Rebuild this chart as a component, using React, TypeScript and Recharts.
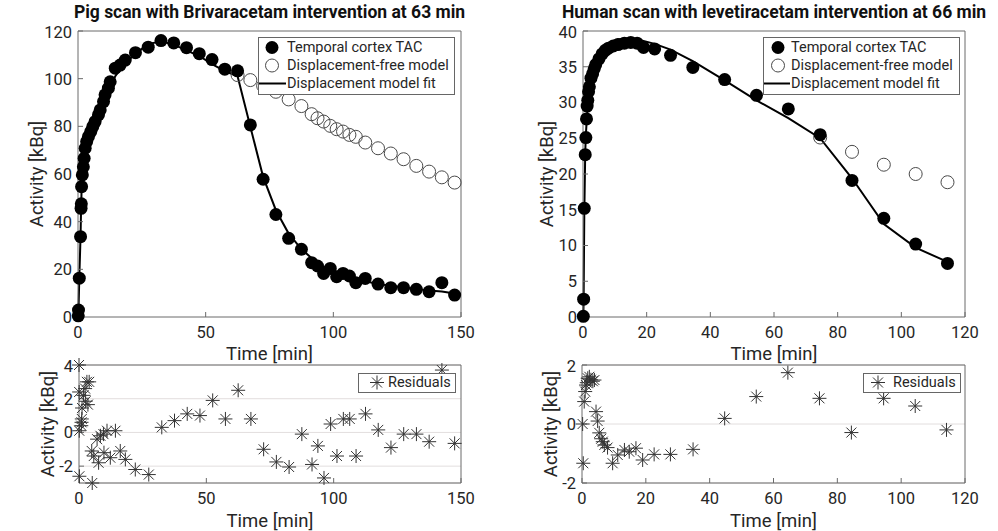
import React from 'react';
import { ComposedChart, Scatter, Line, XAxis, YAxis, CartesianGrid, Label } from 'recharts';

// pig scan, brivaracetam given at 63 min
const pigTime = [0.1, 0.2, 0.5, 1.0, 1.2, 1.3, 1.4, 1.7, 2.1, 2.4, 2.8, 3.4, 4.1, 5.0, 5.8, 6.7, 8.0, 8.7, 10.0, 10.6, 11.9, 12.6, 14.6, 16.5, 18.5, 22.5, 27.5, 32.5, 37.5, 42.5, 47.5, 52.5, 57.5, 62.5, 67.5, 72.5, 77.5, 82.5, 87.5, 91.5, 93.8, 96.2, 98.8, 101.3, 103.8, 106.3, 108.8, 112.5, 117.5, 122.5, 127.5, 132.5, 137.5, 142.5, 147.5];
const pigTac = [0.5, 2.9, 16.3, 33.7, 45.6, 47.5, 54.7, 59.6, 63, 66.6, 70.8, 73.6, 75.7, 77.8, 79.9, 82, 84.8, 86.9, 90.4, 93.2, 96, 98.7, 104.4, 105.7, 107.8, 110.9, 113.2, 116, 115, 113, 110.5, 108, 104, 103.3, 80.6, 57.8, 43, 33, 28.4, 22.8, 21.4, 18.3, 20.4, 16.9, 18.3, 17.2, 14.4, 16.2, 13.8, 12.3, 12.3, 11.6, 10.6, 14.4, 9.2];
const pigFit = [0, 3, 16, 34, 45, 48, 54, 59, 63, 67, 70.5, 73.5, 76, 78.5, 81, 83.5, 86.5, 88, 91, 92.5, 95.5, 97, 101, 104, 106.5, 110.5, 114.5, 115.7, 114.3, 111.9, 109.5, 106.1, 103.2, 101, 79.8, 58.8, 44.8, 35, 28.5, 24.7, 22.2, 21.0, 19.9, 18.3, 17.5, 16.4, 15.8, 15.1, 13.7, 13.2, 12.4, 11.7, 11.1, 10.7, 9.9];
const pigFreeTime = [62.5, 67.5, 72.5, 77.5, 82.5, 87.5, 91.5, 93.8, 96.2, 98.8, 101.3, 103.8, 106.3, 108.8, 112.5, 117.5, 122.5, 127.5, 132.5, 137.5, 142.5, 147.5];
const pigFree = [101.5, 99.4, 97, 94.5, 91.3, 88.5, 85.1, 83.4, 82, 80.2, 78.8, 77.8, 76.4, 75.6, 73.2, 70.8, 68.6, 66.2, 63.4, 61, 58.6, 56.4];
const pigResTime = [0, 0.05, 0.1, 0.15, 0.9, 1.0, 1.1, 1.2, 1.8, 2.4, 2.6, 3.1, 3.5, 4.0, 5.0, 5.2, 5.8, 7.1, 7.7, 8.4, 9.6, 9.8, 11.0, 12.3, 14.3, 16.2, 18.2, 22.1, 27.4, 32.5, 37.5, 42.5, 47.5, 52.5, 57.5, 62.5, 67.5, 72.5, 77.5, 82.5, 87.5, 91.5, 93.8, 96.2, 98.8, 101.3, 103.8, 106.3, 108.8, 112.5, 117.5, 122.5, 127.5, 132.5, 137.5, 142.5, 147.5];
const pigRes = [4.0, 2.4, 0.1, -2.6, 0.4, 0.6, 0.8, 1.45, 2.2, 2.6, 1.85, 3.0, 1.65, 3.0, -1.1, -3.0, -1.4, -0.4, -1.8, -0.2, -0.1, -1.2, 0.1, -1.5, 0.1, -1.1, -1.6, -2.2, -2.5, 0.3, 0.7, 1.1, 1.0, 1.9, 0.8, 2.5, 0.8, -1.0, -1.75, -2.05, -0.1, -1.9, -0.8, -2.7, 0.5, -1.4, 0.8, 0.8, -1.4, 1.1, 0.15, -0.9, -0.1, -0.1, -0.55, 3.7, -0.65];

// human scan, levetiracetam given at 66 min
const humanTime = [0.1, 0.2, 0.4, 0.7, 0.9, 1.1, 1.3, 1.5, 1.75, 2.0, 2.5, 3.0, 3.5, 4.0, 5.0, 6.0, 7.0, 8.0, 9.5, 11.0, 13.0, 15.0, 17.0, 19.0, 22.5, 27.5, 34.5, 44.5, 54.5, 64.5, 74.5, 84.5, 94.5, 104.5, 114.5];
const humanTac = [0.1, 2.5, 15.2, 22.7, 25.1, 27.7, 29.5, 30.3, 31.5, 32.2, 33.4, 34.0, 34.7, 35.3, 36.1, 36.8, 37.3, 37.6, 37.9, 38.1, 38.3, 38.4, 38.3, 37.7, 37.5, 36.6, 34.9, 33.2, 31.0, 29.1, 25.5, 19.1, 13.8, 10.2, 7.5];
const humanFit = [0, 2.6, 14, 23, 25.5, 27, 28.3, 29.4, 30.5, 31.4, 32.8, 33.8, 34.6, 35.3, 36.4, 37.2, 37.8, 38.2, 38.6, 38.8, 38.9, 38.9, 38.8, 38.6, 38.2, 37.4, 35.8, 33.1, 30.3, 27.8, 25.0, 19.4, 13.0, 9.7, 7.7];
const humanFreeTime = [74.5, 84.5, 94.5, 104.5, 114.5];
const humanFree = [25.1, 23.1, 21.3, 20.0, 18.85];
const humanResTime = [0.2, 0.4, 0.7, 1.0, 1.25, 1.5, 1.8, 2.3, 2.8, 3.4, 3.9, 4.4, 4.9, 5.4, 6.0, 6.5, 7.0, 8.0, 9.6, 11.2, 13.3, 14.8, 16.9, 19.0, 22.6, 27.7, 34.8, 44.7, 54.6, 64.5, 74.4, 84.4, 94.5, 104.4, 114.2];
const humanRes = [0, -1.33, 0.76, 1.1, 1.32, 1.4, 1.55, 1.6, 1.5, 1.45, 1.49, 0.42, 0.1, -0.3, -0.5, -0.6, -0.71, -0.8, -1.33, -1.05, -0.88, -0.94, -0.82, -1.22, -1.03, -1.03, -0.86, 0.19, 0.93, 1.74, 0.87, -0.29, 0.87, 0.61, -0.2];

const pigTicksX = [0, 50, 100, 150];
const humanTicksX = [0, 20, 40, 60, 80, 100, 120];
const pigTicksY = [0, 20, 40, 60, 80, 100, 120];
const humanTicksY = [0, 5, 10, 15, 20, 25, 30, 35, 40];
const pigResTicks = [-2, 0, 2, 4];
const humanResTicks = [-2, 0, 2];

const FONT = 'Roboto, sans-serif';
const AXIS = '#6a6a6a';
const TEXT = '#262626';

const pts = (t: number[], v: number[]) => t.map((x, i) => ({ t: x, v: v[i] }));

function Filled(p: any) {
  return <circle cx={p.cx} cy={p.cy} r={6.5} fill="#000" />;
}
function Open(p: any) {
  return <circle cx={p.cx} cy={p.cy} r={6.5} fill="none" stroke="#4a4a4a" strokeWidth={1} />;
}
function Star(p: any) {
  const { cx, cy } = p;
  const r = 7, d = 5;
  return (
    <g stroke="#333" strokeWidth={1}>
      <line x1={cx - r} y1={cy} x2={cx + r} y2={cy} />
      <line x1={cx} y1={cy - r} x2={cx} y2={cy + r} />
      <line x1={cx - d} y1={cy - d} x2={cx + d} y2={cy + d} />
      <line x1={cx - d} y1={cy + d} x2={cx + d} y2={cy - d} />
    </g>
  );
}

type Plot = { x: number; y: number; w: number; h: number };

function Panel(props: {
  plot: Plot; yGap: number; xGap: number;
  xDomain: [number, number]; xTicks: number[];
  yDomain: [number, number]; yTicks: number[];
  grid?: boolean; children: React.ReactNode;
}) {
  const { plot, yGap, xGap, xDomain, xTicks, yDomain, yTicks, grid, children } = props;
  // room left of the plot = 2 * label gap, so the centred axis label lands at the gap
  const L = yGap * 2, B = xGap * 2, T = 8, R = 24;
  const tick = { fill: TEXT, fontSize: 16.5, fontFamily: FONT };
  return (
    <div style={{ position: 'absolute', left: plot.x - L, top: plot.y - T - 1 }}>
      <ComposedChart width={L + plot.w + 1 + R} height={T + 1 + plot.h + B} margin={{ top: T, right: R, bottom: 0, left: 0 }}>
        {grid && <CartesianGrid vertical={false} stroke="#e2dede" />}
        <XAxis dataKey="t" type="number" domain={xDomain} ticks={xTicks} height={B} stroke={AXIS}
          tickSize={-5} tickMargin={14} tick={tick}>
          <Label value="Time [min]" position="center" fontSize={18.5} fill={TEXT} fontFamily={FONT} />
        </XAxis>
        <XAxis xAxisId="top" orientation="top" type="number" domain={xDomain} ticks={xTicks} height={1}
          stroke={AXIS} tickSize={-5} tick={false} allowDataOverflow />
        <YAxis dataKey="v" type="number" domain={yDomain} ticks={yTicks} width={L} stroke={AXIS}
          tickSize={-5} tickMargin={11} tick={tick}>
          <Label value="Activity [kBq]" position="center" angle={-90} fontSize={18.5} fill={TEXT} fontFamily={FONT} />
        </YAxis>
        <YAxis yAxisId="right" orientation="right" dataKey="v" type="number" domain={yDomain} ticks={yTicks} width={1}
          stroke={AXIS} tickSize={-5} tick={false} allowDataOverflow />
        {children}
      </ComposedChart>
    </div>
  );
}

type Item = { label: string; kind: 'filled' | 'open' | 'line' | 'star' };

function LegendBox({ x, y, w, h, items, symX, textX }: { x: number; y: number; w: number; h: number; items: Item[]; symX: number; textX: number }) {
  const rowH = (h - 3) / items.length;
  return (
    <svg style={{ position: 'absolute', left: x, top: y }} width={w + 1} height={h + 1}>
      <rect x={0.5} y={0.5} width={w} height={h} fill="#fff" stroke="#666" />
      {items.map((it, i) => {
        const cy = 1.5 + rowH * (i + 0.5);
        return (
          <g key={it.label}>
            {it.kind === 'filled' && <Filled cx={symX} cy={cy} />}
            {it.kind === 'open' && <Open cx={symX} cy={cy} />}
            {it.kind === 'star' && <Star cx={symX} cy={cy} />}
            {it.kind === 'line' && <line x1={1} y1={cy} x2={textX - 1} y2={cy} stroke="#000" strokeWidth={2} />}
            <text x={textX} y={cy} dominantBaseline="central" fontSize={14.5} fontFamily={FONT} fill={TEXT}>{it.label}</text>
          </g>
        );
      })}
    </svg>
  );
}

const mainItems: Item[] = [
  { label: 'Temporal cortex TAC', kind: 'filled' },
  { label: 'Displacement-free model', kind: 'open' },
  { label: 'Displacement model fit', kind: 'line' },
];
const resItems: Item[] = [{ label: 'Residuals', kind: 'star' }];

function Title({ plot, text }: { plot: Plot; text: string }) {
  return (
    <div style={{ position: 'absolute', left: plot.x - 60, width: plot.w + 120, top: 2, textAlign: 'center',
      fontFamily: FONT, fontWeight: 'bold', fontSize: 17.5, lineHeight: '21px', color: '#111', whiteSpace: 'nowrap' }}>
      {text}
    </div>
  );
}

const P1: Plot = { x: 78, y: 31, w: 383, h: 286 };
const P2: Plot = { x: 583, y: 31, w: 382, h: 286 };
const P3: Plot = { x: 79, y: 365, w: 382, h: 118 };
const P4: Plot = { x: 582, y: 365, w: 383, h: 118 };

export default function App() {
  return (
    <div style={{ position: 'absolute', left: 0, top: 0, width: 998, height: 531, background: '#fff', fontFamily: FONT }}>
      <Title plot={P1} text="Pig scan with Brivaracetam intervention at 63 min" />
      <Title plot={P2} text="Human scan with levetiracetam intervention at 66 min" />

      <Panel plot={P1} yGap={42} xGap={36} xDomain={[0, 150]} xTicks={pigTicksX} yDomain={[0, 120]} yTicks={pigTicksY}>
        <Scatter data={pts(pigFreeTime, pigFree)} dataKey="v" shape={Open} isAnimationActive={false} />
        <Scatter data={pts(pigTime, pigTac)} dataKey="v" shape={Filled} isAnimationActive={false} />
        <Line data={pts(pigTime, pigFit)} dataKey="v" type="linear" stroke="#000" strokeWidth={2} dot={false} isAnimationActive={false} />
      </Panel>
      <LegendBox x={258} y={37} w={196} h={57} items={mainItems} symX={14} textX={29} />

      <Panel plot={P2} yGap={37} xGap={36} xDomain={[0, 120]} xTicks={humanTicksX} yDomain={[0, 40]} yTicks={humanTicksY}>
        <Scatter data={pts(humanFreeTime, humanFree)} dataKey="v" shape={Open} isAnimationActive={false} />
        <Scatter data={pts(humanTime, humanTac)} dataKey="v" shape={Filled} isAnimationActive={false} />
        <Line data={pts(humanTime, humanFit)} dataKey="v" type="linear" stroke="#000" strokeWidth={2} dot={false} isAnimationActive={false} />
      </Panel>
      <LegendBox x={763} y={37} w={196} h={57} items={mainItems} symX={15} textX={28} />

      <Panel plot={P3} yGap={32} xGap={37} xDomain={[0, 150]} xTicks={pigTicksX} yDomain={[-3, 4]} yTicks={pigResTicks} grid>
        <Scatter data={pts(pigResTime, pigRes)} dataKey="v" shape={Star} isAnimationActive={false} />
      </Panel>
      <LegendBox x={358} y={373} w={97} h={19} items={resItems} symX={19} textX={30} />

      <Panel plot={P4} yGap={32} xGap={37} xDomain={[0, 120]} xTicks={humanTicksX} yDomain={[-2, 2]} yTicks={humanResTicks} grid>
        <Scatter data={pts(humanResTime, humanRes)} dataKey="v" shape={Star} isAnimationActive={false} />
      </Panel>
      <LegendBox x={863} y={373} w={97} h={19} items={resItems} symX={15} textX={30} />
    </div>
  );
}
